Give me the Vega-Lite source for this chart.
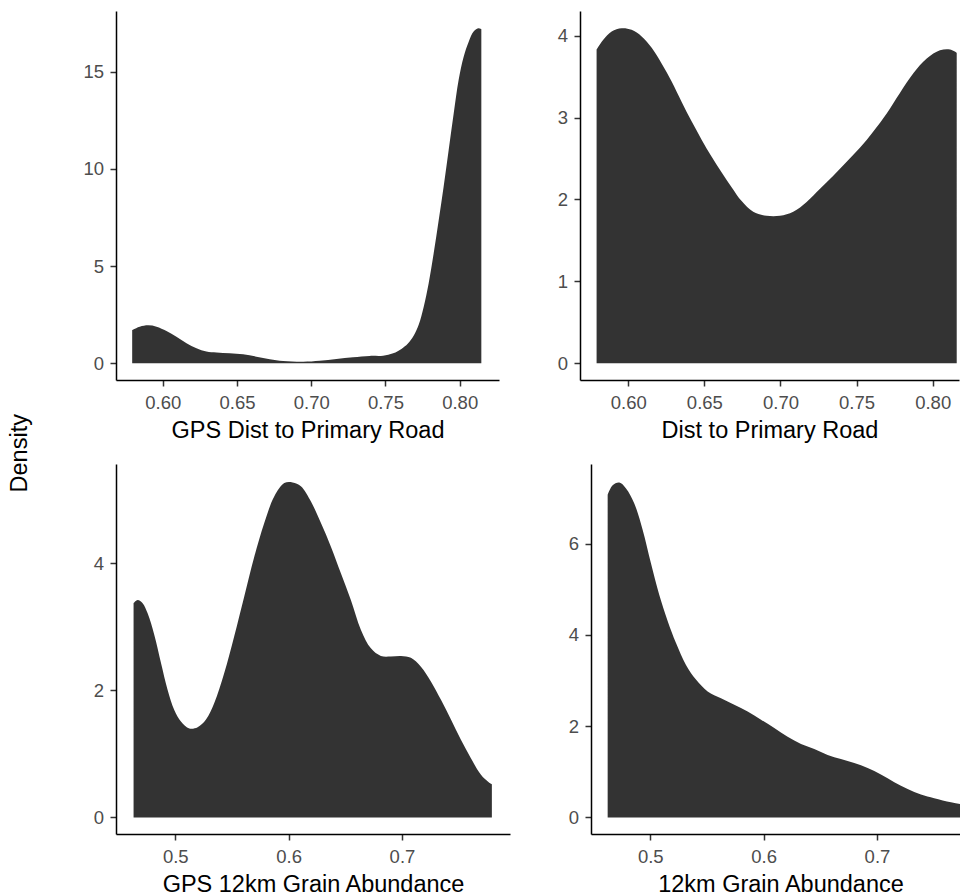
{
  "$schema": "https://vega.github.io/schema/vega-lite/v6.json",
  "autosize": {"type": "pad"},
  "padding": {"left": 8, "top": 11, "right": 0, "bottom": 0},
  "background": "white",
  "title": {"text": "Density", "orient": "left", "anchor": "middle", "fontSize": 23.5, "fontWeight": "normal", "color": "#000000", "font": "Liberation Sans", "offset": 51},
  "spacing": 22,
  "datasets": {
    "p1": [
      {"x": 0.5794, "y": 1.71}, {"x": 0.5845, "y": 1.88}, {"x": 0.5902, "y": 1.95}, {"x": 0.5958, "y": 1.88},
      {"x": 0.6025, "y": 1.66}, {"x": 0.6092, "y": 1.37}, {"x": 0.6160, "y": 1.03}, {"x": 0.6227, "y": 0.77},
      {"x": 0.6294, "y": 0.60}, {"x": 0.6362, "y": 0.55}, {"x": 0.6451, "y": 0.51}, {"x": 0.6541, "y": 0.46},
      {"x": 0.6631, "y": 0.34}, {"x": 0.6721, "y": 0.21}, {"x": 0.6811, "y": 0.12}, {"x": 0.6945, "y": 0.08},
      {"x": 0.7057, "y": 0.13}, {"x": 0.7170, "y": 0.22}, {"x": 0.7282, "y": 0.31}, {"x": 0.7394, "y": 0.38},
      {"x": 0.7484, "y": 0.39}, {"x": 0.7552, "y": 0.51}, {"x": 0.7610, "y": 0.75}, {"x": 0.7650, "y": 1.0},
      {"x": 0.7690, "y": 1.42}, {"x": 0.7724, "y": 1.98}, {"x": 0.7758, "y": 2.91}, {"x": 0.7791, "y": 4.11},
      {"x": 0.7825, "y": 5.66}, {"x": 0.7859, "y": 7.37}, {"x": 0.7892, "y": 9.08}, {"x": 0.7926, "y": 10.97},
      {"x": 0.7960, "y": 12.86}, {"x": 0.7993, "y": 14.57}, {"x": 0.8027, "y": 15.77}, {"x": 0.8061, "y": 16.54},
      {"x": 0.8094, "y": 17.06}, {"x": 0.8128, "y": 17.23}, {"x": 0.8146, "y": 17.18}
    ],
    "p2": [
      {"x": 0.5792, "y": 3.83}, {"x": 0.5836, "y": 3.95}, {"x": 0.5891, "y": 4.05}, {"x": 0.5957, "y": 4.09},
      {"x": 0.6022, "y": 4.07}, {"x": 0.6088, "y": 3.99}, {"x": 0.6154, "y": 3.85}, {"x": 0.6219, "y": 3.66},
      {"x": 0.6285, "y": 3.44}, {"x": 0.6351, "y": 3.19}, {"x": 0.6417, "y": 2.95}, {"x": 0.6482, "y": 2.73},
      {"x": 0.6548, "y": 2.52}, {"x": 0.6614, "y": 2.33}, {"x": 0.6679, "y": 2.15}, {"x": 0.6745, "y": 1.98},
      {"x": 0.6821, "y": 1.85}, {"x": 0.6909, "y": 1.80}, {"x": 0.6997, "y": 1.80}, {"x": 0.7084, "y": 1.85},
      {"x": 0.7172, "y": 1.97}, {"x": 0.7260, "y": 2.13}, {"x": 0.7347, "y": 2.29}, {"x": 0.7435, "y": 2.46},
      {"x": 0.7522, "y": 2.63}, {"x": 0.7610, "y": 2.83}, {"x": 0.7698, "y": 3.05}, {"x": 0.7785, "y": 3.30},
      {"x": 0.7873, "y": 3.54}, {"x": 0.7961, "y": 3.72}, {"x": 0.8048, "y": 3.82}, {"x": 0.8114, "y": 3.83},
      {"x": 0.8158, "y": 3.79}
    ],
    "p3": [
      {"x": 0.4632, "y": 3.37}, {"x": 0.4668, "y": 3.42}, {"x": 0.4712, "y": 3.37}, {"x": 0.4756, "y": 3.21},
      {"x": 0.4815, "y": 2.87}, {"x": 0.4874, "y": 2.43}, {"x": 0.4932, "y": 2.01}, {"x": 0.4991, "y": 1.69},
      {"x": 0.5050, "y": 1.51}, {"x": 0.5124, "y": 1.40}, {"x": 0.5197, "y": 1.42}, {"x": 0.5271, "y": 1.54},
      {"x": 0.5344, "y": 1.80}, {"x": 0.5432, "y": 2.27}, {"x": 0.5520, "y": 2.85}, {"x": 0.5609, "y": 3.48},
      {"x": 0.5697, "y": 4.10}, {"x": 0.5785, "y": 4.63}, {"x": 0.5873, "y": 5.05}, {"x": 0.5962, "y": 5.26},
      {"x": 0.6035, "y": 5.27}, {"x": 0.6108, "y": 5.21}, {"x": 0.6197, "y": 4.97}, {"x": 0.6285, "y": 4.63},
      {"x": 0.6373, "y": 4.26}, {"x": 0.6461, "y": 3.84}, {"x": 0.6549, "y": 3.42}, {"x": 0.6638, "y": 2.95},
      {"x": 0.6726, "y": 2.66}, {"x": 0.6814, "y": 2.54}, {"x": 0.6902, "y": 2.53}, {"x": 0.6991, "y": 2.54},
      {"x": 0.7079, "y": 2.51}, {"x": 0.7167, "y": 2.37}, {"x": 0.7255, "y": 2.14}, {"x": 0.7344, "y": 1.85},
      {"x": 0.7432, "y": 1.54}, {"x": 0.7520, "y": 1.22}, {"x": 0.7608, "y": 0.93}, {"x": 0.7697, "y": 0.67},
      {"x": 0.7760, "y": 0.56}, {"x": 0.7793, "y": 0.52}
    ],
    "p4": [
      {"x": 0.4624, "y": 7.07}, {"x": 0.4668, "y": 7.28}, {"x": 0.4727, "y": 7.34}, {"x": 0.4786, "y": 7.21},
      {"x": 0.4859, "y": 6.88}, {"x": 0.4933, "y": 6.30}, {"x": 0.5006, "y": 5.57}, {"x": 0.5079, "y": 4.88},
      {"x": 0.5154, "y": 4.30}, {"x": 0.5227, "y": 3.82}, {"x": 0.5315, "y": 3.34}, {"x": 0.5403, "y": 3.02},
      {"x": 0.5506, "y": 2.76}, {"x": 0.5624, "y": 2.61}, {"x": 0.5741, "y": 2.47}, {"x": 0.5859, "y": 2.32},
      {"x": 0.5977, "y": 2.14}, {"x": 0.6094, "y": 1.96}, {"x": 0.6212, "y": 1.77}, {"x": 0.6330, "y": 1.61},
      {"x": 0.6447, "y": 1.50}, {"x": 0.6565, "y": 1.37}, {"x": 0.6682, "y": 1.28}, {"x": 0.6800, "y": 1.19},
      {"x": 0.6918, "y": 1.08}, {"x": 0.7035, "y": 0.94}, {"x": 0.7153, "y": 0.77}, {"x": 0.7271, "y": 0.62},
      {"x": 0.7388, "y": 0.50}, {"x": 0.7505, "y": 0.42}, {"x": 0.7653, "y": 0.33}, {"x": 0.7741, "y": 0.29},
      {"x": 0.7800, "y": 0.28}
    ]
  },
  "vconcat": [
    {
      "spacing": 58,
      "hconcat": [
        {
          "width": 383, "height": 369,
          "data": {"name": "p1"},
          "mark": {"type": "area", "color": "#333333", "interpolate": "catmull-rom"},
          "encoding": {
            "x": {"field": "x", "type": "quantitative", "scale": {"domain": [0.5685, 0.8265], "nice": false, "zero": false},
                  "axis": {"values": [0.6, 0.65, 0.7, 0.75, 0.8], "format": ".2f", "title": "GPS Dist to Primary Road"}},
            "y": {"field": "y", "type": "quantitative", "scale": {"domain": [-0.86, 18.12], "nice": false, "zero": false},
                  "axis": {"values": [0, 5, 10, 15], "title": null}},
            "y2": {"datum": 0}
          }
        },
        {
          "width": 379, "height": 369,
          "data": {"name": "p2"},
          "mark": {"type": "area", "color": "#333333", "interpolate": "catmull-rom"},
          "encoding": {
            "x": {"field": "x", "type": "quantitative", "scale": {"domain": [0.5683, 0.8173], "nice": false, "zero": false},
                  "axis": {"values": [0.6, 0.65, 0.7, 0.75, 0.8], "format": ".2f", "title": "Dist to Primary Road"}},
            "y": {"field": "y", "type": "quantitative", "scale": {"domain": [-0.204, 4.30], "nice": false, "zero": false},
                  "axis": {"values": [0, 1, 2, 3, 4], "title": null}},
            "y2": {"datum": 0}
          }
        }
      ]
    },
    {
      "spacing": 58,
      "hconcat": [
        {
          "width": 394, "height": 370,
          "data": {"name": "p3"},
          "mark": {"type": "area", "color": "#333333", "interpolate": "catmull-rom"},
          "encoding": {
            "x": {"field": "x", "type": "quantitative", "scale": {"domain": [0.4477, 0.7953], "nice": false, "zero": false},
                  "axis": {"values": [0.5, 0.6, 0.7], "format": ".1f", "title": "GPS 12km Grain Abundance"}},
            "y": {"field": "y", "type": "quantitative", "scale": {"domain": [-0.261, 5.56], "nice": false, "zero": false},
                  "axis": {"values": [0, 2, 4], "title": null}},
            "y2": {"datum": 0}
          }
        },
        {
          "width": 379, "height": 370,
          "data": {"name": "p4"},
          "mark": {"type": "area", "color": "#333333", "interpolate": "catmull-rom"},
          "encoding": {
            "x": {"field": "x", "type": "quantitative", "scale": {"domain": [0.4477, 0.7821], "nice": false, "zero": false},
                  "axis": {"values": [0.5, 0.6, 0.7], "format": ".1f", "title": "12km Grain Abundance"}},
            "y": {"field": "y", "type": "quantitative", "scale": {"domain": [-0.364, 7.745], "nice": false, "zero": false},
                  "axis": {"values": [0, 2, 4, 6], "title": null}},
            "y2": {"datum": 0}
          }
        }
      ]
    }
  ],
  "config": {
    "font": "Liberation Sans",
    "view": {"stroke": null},
    "axis": {
      "grid": false,
      "domainColor": "#000000",
      "domainWidth": 1.5,
      "tickColor": "#333333",
      "tickWidth": 1.5,
      "tickSize": 6,
      "labelFontSize": 18.5,
      "labelColor": "#4d4d4d",
      "labelPadding": 7.5,
      "labelFlush": false,
      "labelOverlap": false,
      "titleFontSize": 23.5,
      "titleFontWeight": "normal",
      "titleColor": "#000000",
      "titlePadding": 6
    },
    "axisY": {"labelPadding": 6.5}
  }
}
